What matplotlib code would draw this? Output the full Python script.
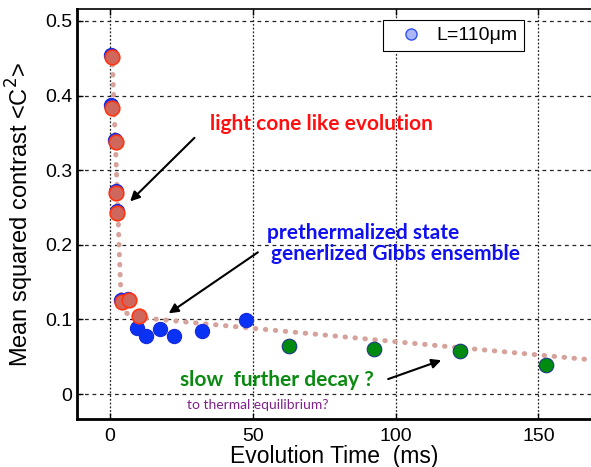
import matplotlib
matplotlib.use("Agg")
import matplotlib.pyplot as plt
from matplotlib.lines import Line2D

matplotlib.rcParams.update({"font.family": ["Liberation Sans", "DejaVu Sans"]})

# early times, L=110um (red on top, blue underneath)
t_red = [0.6, 0.6, 2.0, 2.1, 2.5, 4.1, 6.6, 10.1]
c_red = [0.452, 0.384, 0.338, 0.269, 0.242, 0.123, 0.126, 0.105]
t_blue = [0.5, 0.5, 1.9, 2.0, 2.4, 4.0, 6.5, 9.5, 12.6, 17.4, 22.4, 32.3, 47.7]
c_blue = [0.455, 0.387, 0.341, 0.272, 0.245, 0.126, 0.128, 0.088, 0.078, 0.087, 0.078, 0.085, 0.099]
t_green = [62.6, 92.5, 122.7, 152.7]
c_green = [0.064, 0.060, 0.058, 0.039]

# dotted guide curve
t_fit = [0.8, 1.6, 2.3, 2.8, 3.2, 3.8, 4.5, 6, 9, 20, 60, 120, 168]
c_fit = [0.455, 0.37, 0.30, 0.25, 0.20, 0.14, 0.118, 0.108, 0.103, 0.099, 0.0845, 0.063, 0.046]

fig = plt.figure(figsize=(5.91, 4.67), dpi=100)
ax = fig.add_axes([0.1298, 0.1021, 0.8702, 0.8776])

ax.plot(t_fit, c_fit, color="#d6a29c", lw=3.6, linestyle=(0, (0.1, 1.9)),
        dash_capstyle="round", zorder=2)
ax.scatter(t_blue, c_blue, s=105, color="#0a32f5", edgecolor="#1a2ad8", lw=0.8, zorder=3)
ax.scatter(t_red, c_red, s=110, color="#d0675c", edgecolor="#ff3510", lw=1.2, zorder=4)
ax.scatter(t_green, c_green, s=110, color="#008a10", edgecolor="#1a3a80", lw=0.8, zorder=3)

ax.set_xlim(-11.6, 168.4)
ax.set_ylim(-0.0339, 0.5154)
ax.set_xticks([0, 50, 100, 150])
ax.set_yticks([0, 0.1, 0.2, 0.3, 0.4, 0.5])
ax.set_yticklabels(["0", "0.1", "0.2", "0.3", "0.4", "0.5"])
ax.tick_params(direction="in", labelsize=14, length=4, width=1, top=True)
ax.tick_params(axis="x", pad=6)
ax.tick_params(axis="y", pad=3)

for yv in [0, 0.1, 0.2, 0.3, 0.4, 0.5]:
    ax.axhline(yv, color="#222222", lw=0.9, linestyle=(0, (3, 3)), zorder=1)
for xv in [0, 50, 100, 150]:
    ax.axvline(xv, color="#222222", lw=0.9, linestyle=(0, (1.5, 1.5)), zorder=1)

ax.spines["left"].set_linewidth(2)
ax.spines["bottom"].set_linewidth(2)
ax.spines["top"].set_linewidth(1.2)
ax.spines["right"].set_visible(False)

ax.set_ylabel("Mean squared contrast <C$^2$>", fontsize=17, labelpad=7)
ax.set_xlabel("Evolution Time  (ms)", fontsize=16.5, labelpad=0)

ann = dict(fontweight="bold", family=["Lato", "DejaVu Sans"], va="center", ha="left")
ax.text(34.9, 0.362, "light cone like evolution", color="#ff1010", fontsize=15, **ann)
ax.text(55.1, 0.216, "prethermalized state", color="#1010f0", fontsize=15, **ann)
ax.text(56.5, 0.188, "generlized Gibbs ensemble", color="#1010f0", fontsize=15, **ann)
ax.text(24.4, 0.0188, "slow  further decay ?", color="#0a8a10", fontsize=15, **ann)
ax.text(27.0, -0.0147, "to thermal equilibrium?", color="#80208a", fontsize=10,
        family=["Lato", "DejaVu Sans"], va="center", ha="left")

arr = dict(arrowstyle="-|>", color="black", lw=1.5, mutation_scale=14)
ax.annotate("", xy=(6.4, 0.2556), xytext=(30.3, 0.346), arrowprops=arr)
ax.annotate("", xy=(19.8, 0.106), xytext=(52.6, 0.192), arrowprops=arr)
ax.annotate("", xy=(116.9, 0.0465), xytext=(96.5, 0.0188), arrowprops=arr)

handle = Line2D([], [], marker="o", linestyle="none", markersize=8,
                markerfacecolor="#aab8f8", markeredgecolor="#3050f0")
leg = ax.legend([handle], ["L=110\u03bcm"], loc="upper left", bbox_to_anchor=(0.5956, 0.9744),
                borderaxespad=0, fontsize=14, fancybox=False, framealpha=1,
                handletextpad=0.2, borderpad=0.35, handlelength=2.2)
leg.get_frame().set_edgecolor("black")
leg.get_frame().set_linewidth(0.8)

fig.savefig("out.png", dpi=100)
